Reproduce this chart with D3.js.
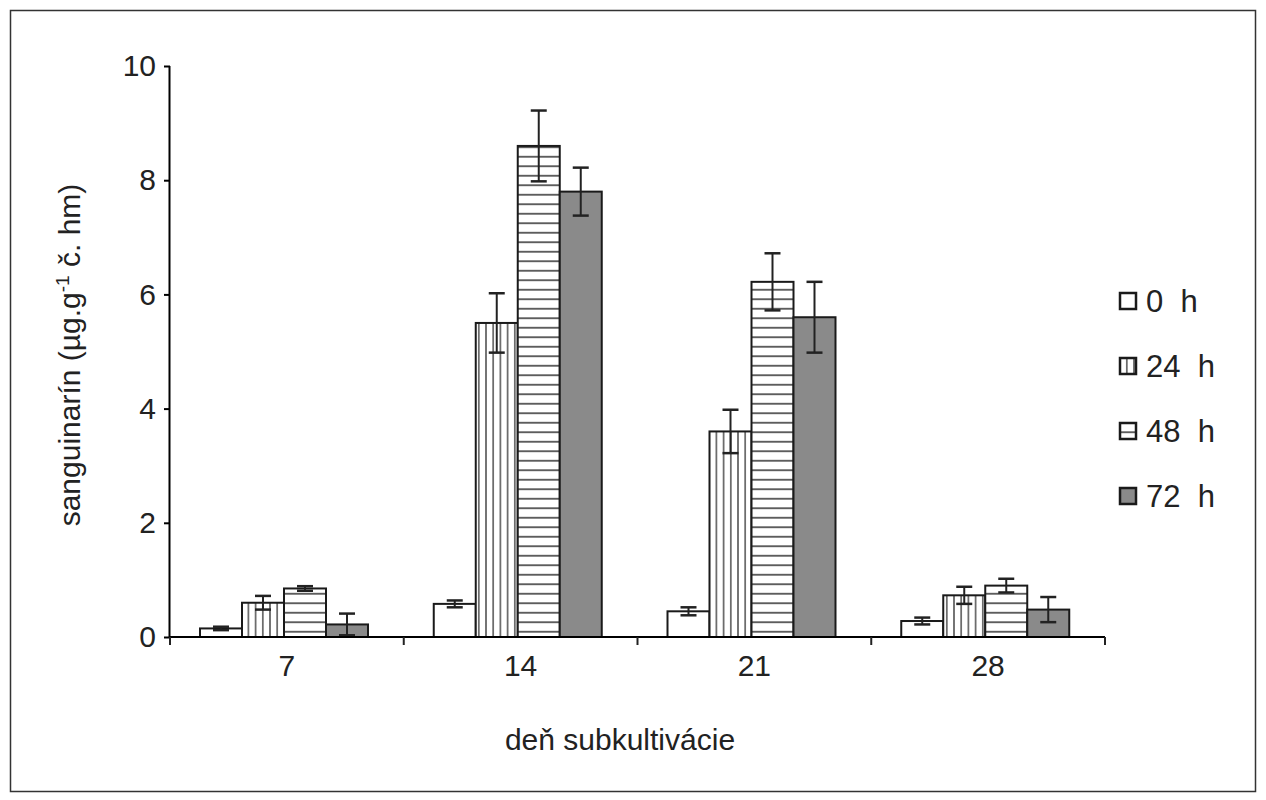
<!DOCTYPE html><html><head><meta charset="utf-8"><script src="https://cdn.jsdelivr.net/npm/d3@7"></script>
<style>body{margin:0;background:#fff}text{font-family:Arial,"Liberation Sans",sans-serif;fill:#222}</style></head><body>
<svg id="c" width="1266" height="800"></svg>
<script>
const days=["7","14","21","28"];
const series=["0 h","24 h","48 h","72 h"];
const values=[[0.15,0.6,0.85,0.22],[0.58,5.5,8.6,7.8],[0.45,3.6,6.22,5.6],[0.28,0.73,0.9,0.48]];
const errors=[[0.03,0.12,0.04,0.19],[0.06,0.52,0.62,0.42],[0.07,0.38,0.5,0.62],[0.06,0.15,0.12,0.22]];
const yTicks=[0,2,4,6,8,10];
const svg=d3.select("#c");
svg.append("rect").attr("x",10.5).attr("y",10.5).attr("width",1245).attr("height",781).attr("fill","none").attr("stroke","#333").attr("stroke-width",1.5);
const defs=svg.append("defs");
const pv=defs.append("pattern").attr("id","pv").attr("width",7.2).attr("height",10).attr("patternUnits","userSpaceOnUse");
pv.append("rect").attr("width",7.2).attr("height",10).attr("fill","#fff");
pv.append("line").attr("x1",3.6).attr("x2",3.6).attr("y1",0).attr("y2",10).attr("stroke","#222").attr("stroke-width",1.2);
const ph=defs.append("pattern").attr("id","ph").attr("width",10).attr("height",9.5).attr("patternUnits","userSpaceOnUse");
ph.append("rect").attr("width",10).attr("height",9.5).attr("fill","#fff");
ph.append("line").attr("x1",0).attr("x2",10).attr("y1",4.75).attr("y2",4.75).attr("stroke","#222").attr("stroke-width",1.4);
const fills=["#fff","url(#pv)","url(#ph)","#8a8a8a"];
const x0=d3.scaleBand().domain(days).range([170,1105]);
const x1=d3.scaleBand().domain(series).range([30,198]);
const y=d3.scaleLinear().domain([0,10]).range([637,66]);
const g=svg.append("g");
days.forEach((d,i)=>{series.forEach((s,j)=>{
 const xl=x0(d)+x1(s), w=x1.bandwidth(), v=values[i][j], e=errors[i][j], cx=xl+w/2;
 g.append("rect").attr("x",xl).attr("y",y(v)).attr("width",w).attr("height",y(0)-y(v)).attr("fill",fills[j]).attr("stroke","#1a1a1a").attr("stroke-width",2);
 g.append("line").attr("x1",cx).attr("x2",cx).attr("y1",y(v+e)).attr("y2",y(Math.max(0,v-e))).attr("stroke","#222").attr("stroke-width",2);
 [v+e,Math.max(0,v-e)].forEach(t=>g.append("line").attr("x1",cx-8).attr("x2",cx+8).attr("y1",y(t)).attr("y2",y(t)).attr("stroke","#222").attr("stroke-width",2.5));
});});
const ya=svg.append("g").attr("transform","translate(170,0)").call(d3.axisLeft(y).tickValues(yTicks).tickSize(6).tickPadding(8));
ya.selectAll("text").style("font-size","30px");
ya.select(".domain").attr("stroke-width",2).attr("d","M-0.5,66V637");
ya.selectAll("line").attr("stroke-width",2);
const xa=svg.append("g").attr("transform","translate(0,637)").call(d3.axisBottom(x0).tickSize(0).tickPadding(18));
xa.selectAll("text").style("font-size","30px");
xa.select(".domain").attr("stroke-width",2).attr("d","M170,0H1105");
[0,1,2,3,4].forEach(k=>svg.append("line").attr("x1",170+k*x0.step()).attr("x2",170+k*x0.step()).attr("y1",637).attr("y2",645).attr("stroke","#222").attr("stroke-width",2));
svg.append("text").attr("x",620).attr("y",750).attr("text-anchor","middle").style("font-size","30px").text("deň subkultivácie");
const yl=svg.append("text").attr("transform","translate(80,355) rotate(-90)").attr("text-anchor","middle").style("font-size","30px");
yl.append("tspan").text("sanguinarín  (µg.g");
yl.append("tspan").attr("dy",-11).style("font-size","19px").text("-1");
yl.append("tspan").attr("dy",11).text(" č. hm)");
series.forEach((s,j)=>{const yy=302+j*65;
 svg.append("rect").attr("x",1120).attr("y",yy-9).attr("width",16).attr("height",16).attr("fill",fills[j]).attr("stroke","#1a1a1a").attr("stroke-width",2.5);
 svg.append("text").attr("x",1146).attr("y",yy+10).style("font-size","31px").text(s.replace(" ","\u00a0\u00a0"));});
</script></body></html>
